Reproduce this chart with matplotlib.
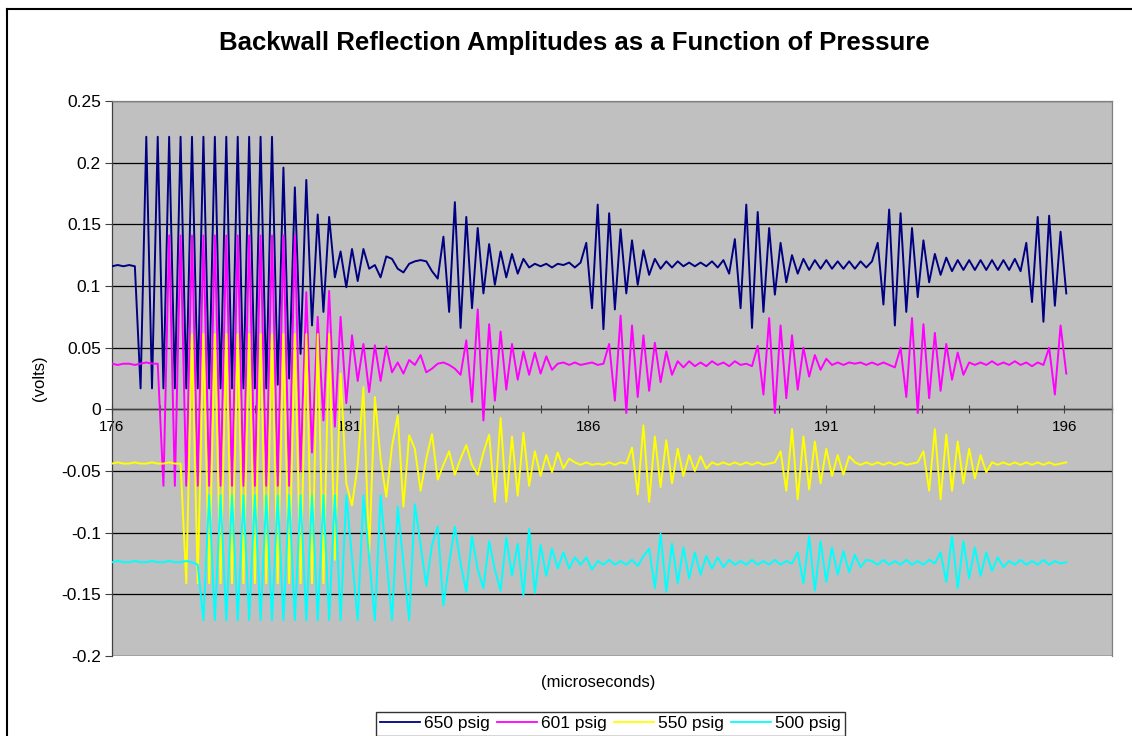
import numpy as np
import matplotlib
matplotlib.use('Agg')
import matplotlib.pyplot as plt
from matplotlib.lines import Line2D
from matplotlib.ticker import FixedLocator, FuncFormatter

plt.rcParams['font.family'] = ['Liberation Sans', 'DejaVu Sans']

# samples every 0.12 microseconds starting at 176 (one value per half-cycle)
t_start = 176.0
dt = 0.12

labels = ['650 psig', '601 psig', '550 psig', '500 psig']
colors = ['#000080', '#FF00FF', '#FFFF00', '#00FFFF']

v650 = [0.116, 0.117, 0.116, 0.117, 0.116,
        0.017, 0.221, 0.017, 0.221, 0.017, 0.221, 0.017, 0.221, 0.017, 0.221, 0.017, 0.221,
        0.017, 0.221, 0.017, 0.221, 0.017, 0.221, 0.017, 0.221, 0.017, 0.221, 0.017, 0.221,
        0.020,
        0.196, 0.025, 0.180, 0.045, 0.186, 0.068, 0.158, 0.079, 0.156, 0.107, 0.128, 0.099, 0.130, 0.104, 0.130,
        0.114, 0.117, 0.107, 0.124, 0.122, 0.114, 0.111, 0.118, 0.120, 0.121, 0.120, 0.112, 0.106,
        0.140, 0.079, 0.168, 0.066, 0.156, 0.082, 0.147, 0.094, 0.134, 0.101, 0.128, 0.107, 0.126, 0.110, 0.122,
        0.115, 0.118, 0.116, 0.118, 0.115, 0.118, 0.117, 0.119, 0.115, 0.119,
        0.135, 0.082, 0.166, 0.065, 0.159, 0.081, 0.146, 0.094, 0.137, 0.101, 0.129, 0.109, 0.122,
        0.114, 0.120, 0.115, 0.120, 0.116, 0.119, 0.116, 0.119, 0.116, 0.120, 0.115,
        0.121, 0.110, 0.138, 0.082, 0.166, 0.066, 0.160, 0.079, 0.147, 0.093, 0.135, 0.103, 0.125, 0.110, 0.122,
        0.113, 0.121, 0.114, 0.121, 0.114, 0.120, 0.114, 0.120, 0.114, 0.120, 0.115, 0.120,
        0.135, 0.085, 0.162, 0.068, 0.159, 0.079, 0.147, 0.091, 0.137, 0.103, 0.126, 0.109, 0.123,
        0.112, 0.121, 0.113, 0.121, 0.113, 0.121, 0.113, 0.121, 0.113, 0.121, 0.113, 0.122, 0.112,
        0.135, 0.087, 0.156, 0.071, 0.157, 0.084, 0.144, 0.094]

v601 = [0.037, 0.036, 0.037, 0.037, 0.036, 0.037, 0.038, 0.037, 0.037,
        -0.062,
        0.141, -0.062, 0.141, -0.062, 0.141, -0.062, 0.141, -0.062, 0.141, -0.062,
        0.141, -0.062, 0.141, -0.062, 0.141, -0.062, 0.141, -0.062, 0.141,
        -0.062, 0.141, -0.062, 0.141, -0.050, 0.095, -0.035, 0.075, -0.009, 0.096, -0.014, 0.075, 0.005, 0.060,
        0.023, 0.053, 0.014, 0.052, 0.023, 0.051, 0.030, 0.038, 0.029, 0.040, 0.036, 0.044, 0.030, 0.033,
        0.037, 0.038, 0.036, 0.033, 0.028, 0.056, 0.006, 0.081, -0.009, 0.069, 0.007, 0.063, 0.016, 0.053,
        0.024, 0.047, 0.028, 0.046, 0.029, 0.043, 0.032,
        0.037, 0.038, 0.036, 0.038, 0.036, 0.037, 0.038, 0.036, 0.037,
        0.053, 0.007, 0.076, -0.003, 0.068, 0.010, 0.060, 0.015, 0.054, 0.022, 0.047, 0.028,
        0.039, 0.034, 0.039, 0.035, 0.038, 0.035, 0.039, 0.036, 0.038, 0.035, 0.039, 0.036, 0.037,
        0.035, 0.0515, 0.012, 0.074, -0.003, 0.068, 0.009, 0.060, 0.016, 0.050, 0.0265, 0.044, 0.032, 0.041,
        0.036, 0.038, 0.036, 0.038, 0.037, 0.038, 0.036, 0.038, 0.036, 0.038, 0.036,
        0.034, 0.050, 0.010, 0.074, -0.003, 0.069, 0.009, 0.062, 0.015, 0.053, 0.024, 0.046, 0.028, 0.038,
        0.036, 0.038, 0.036, 0.039, 0.036, 0.038, 0.036, 0.039, 0.036, 0.038, 0.035, 0.038, 0.036,
        0.050, 0.012, 0.068, 0.029]

v550 = [-0.044, -0.043, -0.044, -0.044, -0.043, -0.044, -0.044, -0.043, -0.044, -0.044, -0.043, -0.044, -0.044,
        -0.141, 0.061, -0.141, 0.061, -0.141, 0.061, -0.141, 0.061, -0.141, 0.061, -0.141, 0.061, -0.141,
        0.061, -0.141, 0.061, -0.141, 0.061, -0.141, 0.061, -0.141, 0.061, -0.141, 0.061, -0.141,
        0.061, -0.122, 0.029, -0.060, -0.078, -0.045, 0.018, -0.117, 0.010, -0.040, -0.071, -0.030, -0.005,
        -0.079, -0.021, -0.032, -0.066, -0.040, -0.020,
        -0.057, -0.045, -0.034, -0.053, -0.040, -0.029, -0.045, -0.053, -0.035, -0.0205, -0.075, -0.007,
        -0.075, -0.022, -0.070, -0.019, -0.062, -0.034, -0.054, -0.037, -0.051, -0.035, -0.048, -0.040,
        -0.043, -0.045, -0.043, -0.045, -0.044, -0.045, -0.043, -0.045, -0.043, -0.044,
        -0.031, -0.069, -0.013, -0.075, -0.022, -0.063, -0.025, -0.060, -0.032, -0.054, -0.037, -0.050, -0.038, -0.048,
        -0.043, -0.045, -0.043, -0.045, -0.043, -0.045, -0.043, -0.045, -0.043, -0.045, -0.044, -0.043,
        -0.034, -0.066, -0.016, -0.073, -0.022, -0.065, -0.026, -0.060, -0.032, -0.054, -0.037, -0.053, -0.038,
        -0.043, -0.045, -0.043, -0.045, -0.043, -0.045, -0.043, -0.045, -0.043, -0.045, -0.044, -0.043,
        -0.034, -0.066, -0.016, -0.073, -0.0205, -0.066, -0.026, -0.060, -0.032, -0.056, -0.037, -0.051,
        -0.043, -0.045, -0.043, -0.045, -0.043, -0.045, -0.043, -0.045, -0.043, -0.045, -0.043, -0.045, -0.044, -0.043]

v500 = [-0.124, -0.123, -0.124, -0.124, -0.123, -0.124, -0.124, -0.123, -0.124, -0.124, -0.123, -0.124,
        -0.124, -0.123, -0.124,
        -0.126,
        -0.171, -0.0697, -0.171, -0.0697, -0.171, -0.0697, -0.171, -0.0697, -0.171, -0.0697, -0.171, -0.0697,
        -0.171, -0.0697, -0.171, -0.0697, -0.171, -0.0697, -0.171, -0.0697, -0.171, -0.0697, -0.171, -0.0697, -0.171,
        -0.0697, -0.120, -0.171, -0.0697, -0.120, -0.171, -0.0697, -0.120, -0.171, -0.079, -0.125, -0.171,
        -0.077, -0.110, -0.143, -0.110,
        -0.095, -0.159, -0.125, -0.095, -0.125, -0.148, -0.103, -0.130, -0.145, -0.107, -0.130, -0.147,
        -0.104, -0.135, -0.109, -0.151, -0.097, -0.149, -0.110, -0.135, -0.113, -0.129, -0.116, -0.129,
        -0.120, -0.126, -0.120, -0.130,
        -0.123, -0.126, -0.122, -0.126, -0.123, -0.126, -0.122, -0.127, -0.119,
        -0.113, -0.145, -0.101, -0.148, -0.109, -0.141, -0.112, -0.137, -0.116, -0.134, -0.119, -0.129, -0.120, -0.128,
        -0.122, -0.126, -0.123, -0.126, -0.122, -0.126, -0.123, -0.126, -0.122, -0.126, -0.123, -0.125,
        -0.116, -0.141, -0.103, -0.147, -0.107, -0.140, -0.112, -0.134, -0.115, -0.132, -0.118, -0.128, -0.122,
        -0.123, -0.126, -0.122, -0.126, -0.123, -0.126, -0.122, -0.126, -0.123, -0.126, -0.122, -0.125,
        -0.116, -0.140, -0.103, -0.145, -0.107, -0.137, -0.112, -0.135, -0.116, -0.131, -0.120, -0.128,
        -0.123, -0.126, -0.122, -0.126, -0.123, -0.126, -0.122, -0.126, -0.123, -0.125, -0.124]

series = [v650, v601, v550, v500]

y_ticks = [-0.2, -0.15, -0.1, -0.05, 0, 0.05, 0.1, 0.15, 0.2, 0.25]
y_ticklabels = ['-0.2', '-0.15', '-0.1', '-0.05', '0', '0.05', '0.1', '0.15', '0.2', '0.25']

W, H = 1132, 736
fig = plt.figure(figsize=(W / 100, H / 100), dpi=100)
ax = fig.add_axes([112 / W, 80 / H, 1000 / W, 555 / H])
ax.set_facecolor('#C0C0C0')

for y in y_ticks:
    ax.axhline(y, color='black', lw=0.9, zorder=1)

for vals, lab, col in zip(series, labels, colors):
    t = t_start + dt * np.arange(len(vals))
    ax.plot(t, vals, color=col, lw=1.4, label=lab, zorder=3)

ax.set_xlim(176, 197)
ax.set_ylim(-0.2, 0.25)

for s in ['top', 'right']:
    ax.spines[s].set_color('#808080')
    ax.spines[s].set_linewidth(0.9)
ax.spines['left'].set_color('#404040')
ax.spines['left'].set_linewidth(0.9)
ax.spines['bottom'].set_position(('data', 0))
ax.spines['bottom'].set_color('#404040')
ax.spines['bottom'].set_linewidth(1.0)
ax.spines['bottom'].set_zorder(2)
ax.axhline(-0.2, color='#808080', lw=0.9, zorder=2)

ax.set_yticks(y_ticks)
ax.set_yticklabels(y_ticklabels)
ax.tick_params(axis='y', direction='out', length=5, width=0.8, color='#404040',
               labelsize=12.5, pad=3)

x_ticks = list(range(176, 198))
ax.xaxis.set_major_locator(FixedLocator(x_ticks))
ax.xaxis.set_major_formatter(FuncFormatter(lambda v, p: f'{int(round(v))}' if int(round(v) - 176) % 5 == 0 and v < 197 else ''))
ax.tick_params(axis='x', direction='inout', length=6, width=0.8, color='#404040',
               labelsize=11, pad=5)

fig.text(598 / W, 1 - 683 / H, '(microseconds)', ha='center', va='center', fontsize=12)
fig.text(40 / W, 1 - 378 / H, '(volts)', ha='center', va='center', fontsize=12, rotation=90)
fig.text(574 / W, 1 - 43 / H, 'Backwall Reflection Amplitudes as a Function of Pressure',
         ha='center', va='center', fontsize=18.5, fontweight='bold')

leg = fig.legend(loc='upper left', bbox_to_anchor=(376 / W, 1 - 712 / H), ncol=4,
                 fontsize=12.5, frameon=True, fancybox=False, borderaxespad=0,
                 handlelength=2.3, handletextpad=0.2, columnspacing=0.45, borderpad=0.25)
leg.get_frame().set_edgecolor('black')
leg.get_frame().set_linewidth(1.0)
for h in leg.legend_handles:
    h.set_linewidth(1.3)

# outer chart border (left and top visible)
fig.add_artist(Line2D([7 / W, 7 / W], [0, 1 - 9 / H], color='black', lw=1.5, transform=fig.transFigure))
fig.add_artist(Line2D([7 / W, 1], [1 - 9 / H, 1 - 9 / H], color='black', lw=1.5, transform=fig.transFigure))

fig.savefig('out.png', dpi=100)
